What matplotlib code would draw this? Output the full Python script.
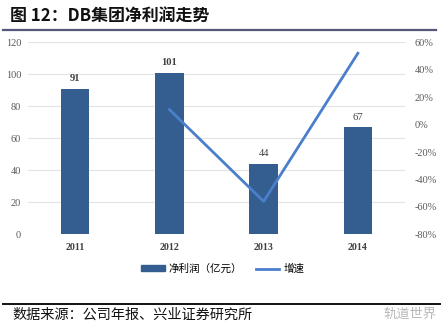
import matplotlib
matplotlib.use("Agg")
import matplotlib.pyplot as plt
from matplotlib.ticker import FuncFormatter
from matplotlib.lines import Line2D
from matplotlib.patches import Patch

years = ["2011", "2012", "2013", "2014"]
profit = [91, 101, 44, 67]          # 净利润（亿元）
growth = [None, 0.11, -0.56, 0.52]  # 增速
left_ticks = [0, 20, 40, 60, 80, 100, 120]
right_ticks = [-0.8, -0.6, -0.4, -0.2, 0.0, 0.2, 0.4, 0.6]

cjk = ["Noto Sans CJK SC", "DejaVu Sans"]
serif = "Liberation Serif"
bar_color = "#335e8f"
line_color = "#4a7fcb"

fig = plt.figure(figsize=(4.43, 3.24), dpi=100)
ax = fig.add_axes([28 / 443, 1 - 234.3 / 324, 377 / 443, 192 / 324])

x = list(range(len(years)))
bars = ax.bar(x, profit, width=0.3, color=bar_color, zorder=3)
ax.set_xlim(-0.5, len(years) - 0.5)
ax.set_ylim(0, 120)
ax.set_yticks(left_ticks)
ax.set_xticks(x)
ax.set_xticklabels(years, fontfamily=serif, fontweight="bold", fontsize=7.2, color="#404040")
ax.tick_params(axis="x", length=0, pad=6)
ax.tick_params(axis="y", length=0, pad=5, labelsize=7.4, labelcolor="#595959")
for lab in ax.get_yticklabels():
    lab.set_fontfamily(serif)
ax.grid(axis="y", color="#e3e3e3", linewidth=0.8, zorder=0)
for s in ax.spines.values():
    s.set_visible(False)

weights = ["bold", "bold", "normal", "normal"]
for xi, v, w in zip(x, profit, weights):
    ax.annotate(str(v), (xi, v), xytext=(0, 4), textcoords="offset points",
                ha="center", va="bottom", fontsize=7.6, fontfamily=serif,
                fontweight=w, color="#404040")

ax2 = ax.twinx()
gx = [xi for xi, g in zip(x, growth) if g is not None]
gy = [g for g in growth if g is not None]
ax2.plot(gx, gy, color=line_color, linewidth=2, zorder=4)
ax2.set_ylim(-0.8, 0.6)
ax2.set_yticks(right_ticks)
ax2.yaxis.set_major_formatter(FuncFormatter(lambda v, p: f"{v * 100:.0f}%"))
ax2.tick_params(axis="y", length=0, pad=7, labelsize=7.4, labelcolor="#595959")
for lab in ax2.get_yticklabels():
    lab.set_fontfamily(serif)
for s in ax2.spines.values():
    s.set_visible(False)

handles = [Patch(color=bar_color), Line2D([0], [0], color=line_color, linewidth=2)]
fig.legend(handles, ["净利润（亿元）", "增速"], loc="center",
           bbox_to_anchor=(223 / 443, 1 - 269 / 324), ncol=2, frameon=False,
           prop={"family": cjk, "size": 7.6}, handlelength=2.2, handleheight=0.5,
           columnspacing=1.3, handletextpad=0.4)

# header and footer
fig.text(10 / 443, 1 - 17 / 324, "图 12：DB集团净利润走势", fontfamily=cjk,
         fontweight="bold", fontsize=12.2, va="center", ha="left", color="#111111")
fig.add_artist(Line2D([3 / 443, 436 / 443], [1 - 29.5 / 324] * 2, color="#55567a",
                      linewidth=1.6, transform=fig.transFigure))
fig.add_artist(Line2D([3 / 443, 440 / 443], [1 - 304 / 324] * 2, color="#111111",
                      linewidth=1.4, transform=fig.transFigure))
fig.text(12 / 443, 1 - 315 / 324, "数据来源：公司年报、兴业证券研究所", fontfamily=cjk,
         fontsize=10.2, va="center", ha="left", color="#111111")
fig.text(383 / 443, 1 - 314 / 324, "轨道世界", fontfamily=cjk, fontsize=9.5,
         va="center", ha="left", color="#b8b8b8")

fig.savefig("out.png", dpi=100)
